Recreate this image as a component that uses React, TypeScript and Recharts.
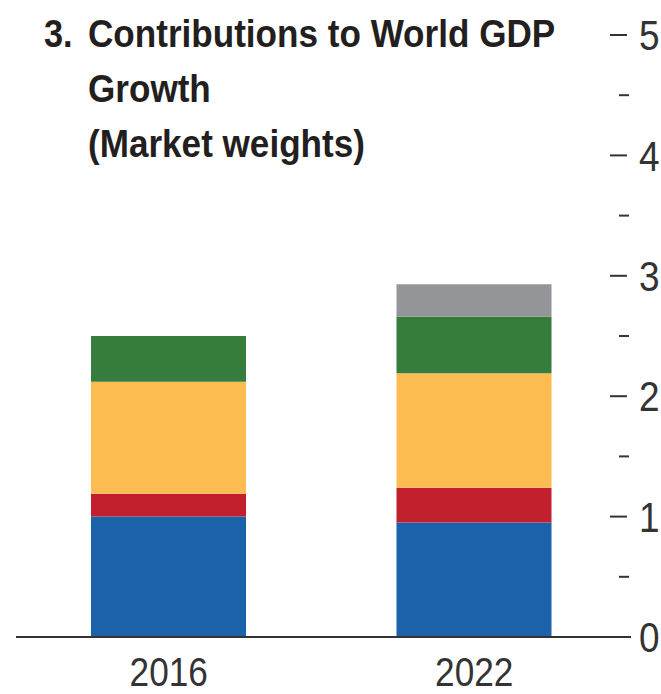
import React from 'react';
import { BarChart, Bar, XAxis, YAxis, Customized } from 'recharts';

const categories = ['2016', '2022'];
const blueValues = [1.0, 0.95];
const redValues = [0.19, 0.29];
const yellowValues = [0.93, 0.95];
const greenValues = [0.38, 0.47];
const grayValues = [0, 0.27];
const yTicks = [0, 0.5, 1, 1.5, 2, 2.5, 3, 3.5, 4, 4.5, 5];
const titleNumber = '3.';
const titleLines = ['Contributions to World GDP', 'Growth', '(Market weights)'];

const data = categories.map((c, i) => ({
  year: c,
  blue: blueValues[i],
  red: redValues[i],
  yellow: yellowValues[i],
  green: greenValues[i],
  gray: grayValues[i],
}));

const FONT = "'Liberation Sans', Arial, sans-serif";
const INK = '#333333';
const SX = 0.88;

const RightTick = (props: any) => {
  const { x, y, payload } = props;
  const v = payload.value;
  const major = Number.isInteger(v);
  return (
    <g>
      {major ? (
        <line x1={x - 21} x2={x - 4} y1={y} y2={y} stroke={INK} strokeWidth={2} />
      ) : (
        <line x1={x - 12} x2={x - 2} y1={y} y2={y} stroke={INK} strokeWidth={2} />
      )}
      {major && (
        <text
          transform={`translate(${x + 8},${y}) scale(${SX},1)`}
          dy="0.36em"
          textAnchor="start"
          fontFamily={FONT}
          fontSize={42}
          fill={INK}
        >
          {v}
        </text>
      )}
    </g>
  );
};

const LeftTick = (props: any) => {
  const { x, y, payload } = props;
  const major = Number.isInteger(payload.value);
  const len = major ? 17 : 9;
  return <line x1={x} x2={x + len} y1={y} y2={y} stroke={INK} strokeWidth={2} />;
};

const XTick = (props: any) => {
  const { x, y, payload } = props;
  return (
    <text
      transform={`translate(${x},${y + 49}) scale(${SX},1)`}
      textAnchor="middle"
      fontFamily={FONT}
      fontSize={40}
      fill={INK}
    >
      {payload.value}
    </text>
  );
};

const Title = () => (
  <g fontFamily={FONT} fontWeight="bold" fontSize={39} fill="#231f20">
    <text transform={`translate(44,46.5) scale(${SX},1)`}>{titleNumber}</text>
    {titleLines.map((t, i) => (
      <text key={i} transform={`translate(88,${46.5 + i * 55}) scale(0.9,1)`}>{t}</text>
    ))}
  </g>
);

export default function App() {
  return (
    <div style={{ position: 'absolute', left: 0, top: 0, background: '#fff' }}>
      <BarChart
        width={661}
        height={694}
        data={data}
        margin={{ top: 35, right: 0, bottom: 0, left: 0 }}
        barSize={155}
      >
        <XAxis
          dataKey="year"
          height={57}
          padding={{ left: 0, right: 4 }}
          axisLine={{ stroke: INK, strokeWidth: 2 }}
          tickLine={false}
          tickSize={0}
          tickMargin={0}
          tick={<XTick />}
          interval={0}
        />
        <YAxis
          yAxisId="left"
          orientation="left"
          width={16}
          domain={[0, 5]}
          ticks={yTicks}
          interval={0}
          axisLine={false}
          tickLine={false}
          tickSize={0}
          tickMargin={0}
          tick={<LeftTick />}
        />
        <YAxis
          yAxisId="right"
          orientation="right"
          width={30}
          domain={[0, 5]}
          ticks={yTicks}
          interval={0}
          axisLine={false}
          tickLine={false}
          tickSize={0}
          tickMargin={0}
          tick={<RightTick />}
        />
        <Bar yAxisId="right" dataKey="blue" stackId="s" fill="#1B62AB" isAnimationActive={false} />
        <Bar yAxisId="right" dataKey="red" stackId="s" fill="#C3202F" isAnimationActive={false} />
        <Bar yAxisId="right" dataKey="yellow" stackId="s" fill="#FDBC52" isAnimationActive={false} />
        <Bar yAxisId="right" dataKey="green" stackId="s" fill="#357C3D" isAnimationActive={false} />
        <Bar yAxisId="right" dataKey="gray" stackId="s" fill="#939598" isAnimationActive={false} />
        <Customized component={Title} />
      </BarChart>
    </div>
  );
}
